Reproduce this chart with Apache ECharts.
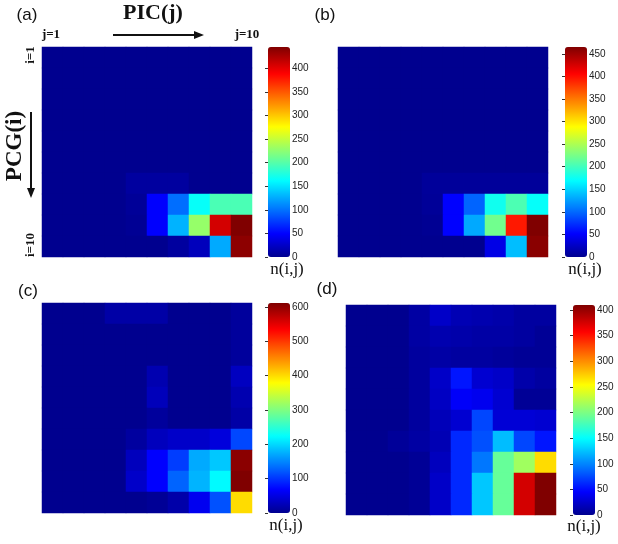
<!DOCTYPE html>
<html>
<head>
<meta charset="utf-8">
<script src="https://cdn.jsdelivr.net/npm/echarts@6/dist/echarts.min.js"></script>
<style>
html,body{margin:0;padding:0;background:#fff;}
#chart{width:618px;height:544px;}
</style>
</head>
<body>
<div id="chart"></div>
<script>
// ---------------- DATA ----------------
const cols = ['1','2','3','4','5','6','7','8','9','10'];   // j = PIC index
const rows = ['1','2','3','4','5','6','7','8','9','10'];   // i = PCG index

// n(i,j); each inner array is one row i (top to bottom), values for j = 1..10
const panelA = [
  [0,0,0,0,0,0,0,0,0,0],
  [0,0,0,0,0,0,0,0,0,0],
  [0,0,0,0,0,0,0,0,0,0],
  [0,0,0,0,0,0,0,0,0,0],
  [0,0,0,0,0,0,0,0,0,0],
  [0,0,0,0,0,0,0,0,0,0],
  [0,0,0,0,7,7,7,0,0,0],
  [0,0,0,0,4,49,98,165,195,195],
  [0,0,0,0,2,49,129,229,408,445],
  [0,0,0,0,0,0,7,20,125,439]
];
const panelB = [
  [0,0,0,0,0,0,0,0,0,0],
  [0,0,0,0,0,0,0,0,0,0],
  [0,0,0,0,0,0,0,0,0,0],
  [0,0,0,0,0,0,0,0,0,0],
  [0,0,0,0,0,0,0,0,0,0],
  [0,0,0,0,0,0,0,0,0,0],
  [0,0,0,0,5,5,5,5,5,5],
  [0,0,0,0,4,52,98,177,205,172],
  [0,0,0,0,2,52,130,222,395,465],
  [0,0,0,0,0,0,0,40,140,460]
];
const panelC = [
  [0,0,0,14,14,14,0,0,0,8],
  [0,0,0,0,0,0,0,0,0,8],
  [0,0,0,0,0,0,0,0,0,8],
  [0,0,0,0,0,20,0,0,0,30],
  [0,0,0,0,0,26,0,0,0,20],
  [0,0,0,0,0,8,0,0,0,14],
  [0,0,0,0,10,28,35,35,47,111],
  [0,0,0,0,28,68,105,172,190,605],
  [0,0,0,0,35,68,129,178,221,612],
  [0,0,0,0,0,4,16,59,117,400]
];
const panelD = [
  [0,0,0,8,23,15,13,11,7,7],
  [0,0,0,8,13,11,9,9,7,3],
  [0,0,0,6,9,7,7,5,3,3],
  [0,0,0,6,23,54,27,23,11,7],
  [0,0,0,6,21,43,39,27,3,3],
  [0,0,0,6,17,27,74,29,29,27],
  [0,0,4,8,15,62,78,123,74,54],
  [0,0,0,3,19,62,94,191,215,268],
  [0,0,0,3,23,62,127,191,376,410],
  [0,0,0,3,23,62,127,191,376,410]
];

// colour-bar scales (max value, tick interval)
const cbarMax = [445, 465, 612, 410];
const cbarInterval = [50, 50, 100, 50];
const panelLabels = ['(a)', '(b)', '(c)', '(d)'];
const cbarTitle = 'n(i,j)';

// ---------------- LAYOUT ----------------
const panels = [panelA, panelB, panelC, panelD];
const heatBoxes = [
  {left:42, top:47, width:210, height:210},
  {left:338, top:47, width:210, height:210},
  {left:42, top:303, width:210, height:210},
  {left:346, top:305, width:210, height:210}
];
const barBoxes = [
  {left:268, top:47, width:22, height:210},
  {left:565, top:47, width:22, height:210},
  {left:268, top:303, width:22, height:210},
  {left:573, top:305, width:22, height:210}
];

// MATLAB jet(64) colormap
function jetColors(m){
  const u = i => (i<1||i>47) ? 0 : (i<=16 ? i/16 : (i<=31 ? 1 : (48-i)/16));
  const out = [];
  for (let k=1;k<=m;k++){
    const r=Math.round(255*u(k-24)), g=Math.round(255*u(k-8)), b=Math.round(255*u(k+8));
    out.push('rgb('+r+','+g+','+b+')');
  }
  return out;
}
const jet = jetColors(64);

const grid=[], xAxis=[], yAxis=[], series=[], visualMap=[];
panels.forEach((p, k) => {
  grid.push(Object.assign({}, heatBoxes[k]));
  xAxis.push({type:'category', data:cols, gridIndex:k, show:false});
  yAxis.push({type:'category', data:rows, gridIndex:k, inverse:true, show:false});
  const data=[];
  p.forEach((row, i) => row.forEach((v, j) => data.push([j, i, v])));
  series.push({type:'heatmap', xAxisIndex:k, yAxisIndex:k, data:data,
               itemStyle:{borderWidth:0}, emphasis:{disabled:true}, progressive:0});
  visualMap.push({type:'continuous', seriesIndex:k, min:0, max:cbarMax[k],
                  left:barBoxes[k].left, top:barBoxes[k].top, padding:0,
                  itemWidth:barBoxes[k].width, itemHeight:barBoxes[k].height,
                  calculable:false, hoverLink:false, text:null, showLabel:false,
                  inRange:{color:jet}, z:2});
});
// colour-bar tick axes
barBoxes.forEach((b, k) => {
  const gi = 4 + k;
  grid.push(Object.assign({}, b));
  xAxis.push({type:'value', gridIndex:gi, show:false});
  yAxis.push({type:'value', gridIndex:gi, min:0, max:cbarMax[k], interval:cbarInterval[k],
              position:'right', z:10,
              axisLine:{show:false}, splitLine:{show:false},
              axisTick:{show:true, inside:true, length:3, lineStyle:{color:'#333', width:1}},
              axisLabel:{show:true, showMaxLabel:false, margin:2, fontSize:10,
                         fontFamily:'Liberation Sans', color:'#222'}});
});

// ---------------- ANNOTATIONS ----------------
const serif = '"Liberation Serif", "DejaVu Serif", serif';
const sans = '"Liberation Sans", Arial, sans-serif';
const labelPos = [[27,15],[325,15],[28,291],[327,289]];
const titlePos = [[287,270],[585,270],[286,526],[584,527]];
const graphic = [];
labelPos.forEach((pos, k) => graphic.push({type:'text', x:pos[0], y:pos[1],
  style:{text:panelLabels[k], font:'17px '+sans, fill:'#111', align:'center', verticalAlign:'middle'}}));
titlePos.forEach(pos => graphic.push({type:'text', x:pos[0], y:pos[1],
  style:{text:cbarTitle, font:'17px '+serif, fill:'#111', align:'center', verticalAlign:'middle'}}));
graphic.push(
  {type:'text', x:153, y:13, style:{text:'PIC(j)', font:'bold 22px '+serif, fill:'#111', align:'center', verticalAlign:'middle'}},
  {type:'line', shape:{x1:113, y1:35, x2:198, y2:35}, style:{stroke:'#111', lineWidth:2}},
  {type:'polygon', shape:{points:[[204,35],[194,31],[194,39]]}, style:{fill:'#111'}},
  {type:'text', x:51, y:35, style:{text:'j=1', font:'bold 13px '+serif, fill:'#111', align:'center', verticalAlign:'middle'}},
  {type:'text', x:247, y:35, style:{text:'j=10', font:'bold 13px '+serif, fill:'#111', align:'center', verticalAlign:'middle'}},
  {type:'text', x:15, y:146, rotation:Math.PI/2, style:{text:'PCG(i)', font:'bold 23px '+serif, fill:'#111', align:'center', verticalAlign:'middle'}},
  {type:'line', shape:{x1:31, y1:112, x2:31, y2:191}, style:{stroke:'#111', lineWidth:2}},
  {type:'polygon', shape:{points:[[31,198],[27,188],[35,188]]}, style:{fill:'#111'}},
  {type:'text', x:31, y:55, rotation:Math.PI/2, style:{text:'i=1', font:'bold 13px '+serif, fill:'#111', align:'center', verticalAlign:'middle'}},
  {type:'text', x:31, y:245, rotation:Math.PI/2, style:{text:'i=10', font:'bold 13px '+serif, fill:'#111', align:'center', verticalAlign:'middle'}}
);

const chart = echarts.init(document.getElementById('chart'), null, {renderer:'canvas'});
chart.setOption({
  backgroundColor:'#fff',
  animation:false,
  grid, xAxis, yAxis, series, visualMap, graphic
});
</script>
</body>
</html>
